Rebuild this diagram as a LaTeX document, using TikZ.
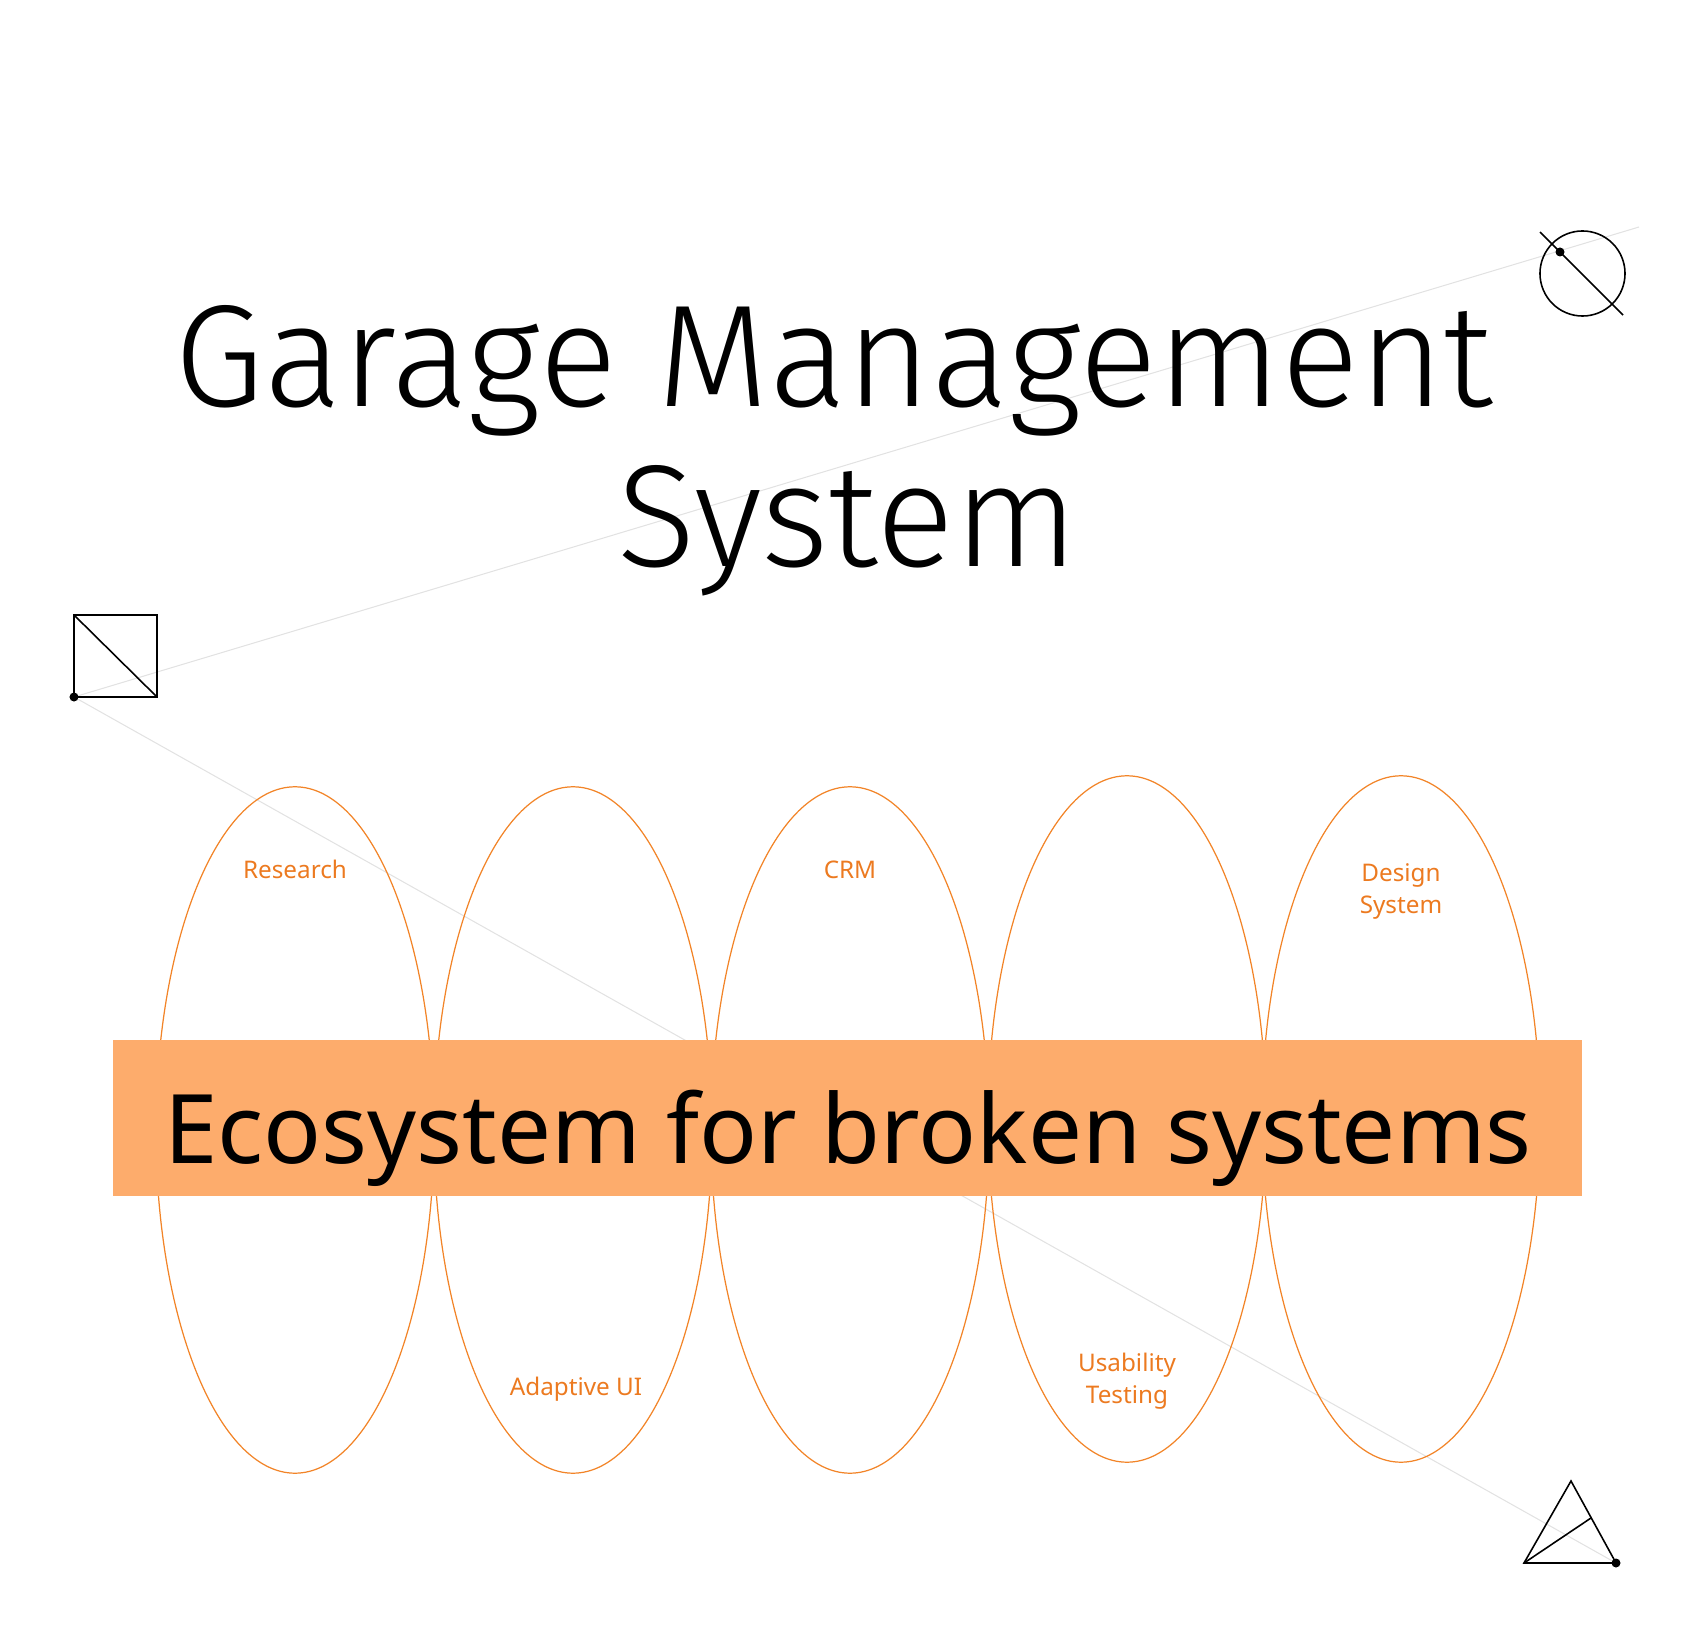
\documentclass[tikz,border=0pt]{standalone}
\usepackage{fontspec}
\setmainfont{Noto Sans}
\newfontfamily\titlefont{Fira Sans}[UprightFont=* Light]
\usetikzlibrary{shapes.geometric}

\begin{document}
\begin{tikzpicture}[x=0.01cm, y=-0.01cm]
% Styles
\tikzstyle{none} = []
\tikzstyle{blackdot}=[fill=black, shape=circle, minimum size=0.09cm, inner sep=0cm]
\tikzstyle{outline}=[draw=black, line width=0.45pt]
\tikzstyle{greyline}=[-, draw={rgb,255: red,226; green,226; blue,226}, line width=0.3pt]
\tikzstyle{petal}=[draw={rgb,255: red,242; green,132; blue,40}, shape=ellipse, line width=0.35pt, minimum width=2.78cm, minimum height=6.86cm, inner sep=0cm]
\tikzstyle{tag}=[text={rgb,255: red,236; green,122; blue,32}, font=\fontsize{6.9}{9.1}\selectfont, align=center, anchor=base, inner sep=0cm]
\tikzstyle{band}=[fill={rgb,255: red,253; green,172; blue,108}]

\useasboundingbox (0,0) rectangle (1696,1652);

% corner marks
\node [style=none] (1) at (74, 615) {};
\node [style=none] (2) at (157, 615) {};
\node [style=none] (3) at (157, 697) {};
\node [style=none] (4) at (74, 697) {};
\node [style=none] (5) at (1582.5, 273.5) {};
\node [style=none] (6) at (1540, 232) {};
\node [style=none] (7) at (1623, 315) {};
\node [style=none] (8) at (1571, 1481) {};
\node [style=none] (9) at (1524, 1563) {};
\node [style=none] (10) at (1616, 1563) {};
\node [style=none] (11) at (1591, 1518) {};
\node [style=none] (12) at (1639, 227) {};

% grey guide lines
\draw [style=greyline] (4.center) to (12.center);
\draw [style=greyline] (4.center) to (10.center);

% petals
\node [style=petal] (e1) at (295, 1130) {};
\node [style=petal] (e2) at (573, 1130) {};
\node [style=petal] (e3) at (850, 1130) {};
\node [style=petal] (e4) at (1127, 1119) {};
\node [style=petal] (e5) at (1401, 1119) {};

\node [style=tag] (t1) at (295, 879) {Research};
\node [style=tag] (t2) at (576, 1395) {Adaptive UI};
\node [style=tag] (t3) at (850, 879) {CRM};
\node [style=tag] (t4) at (1127, 1403) {Usability\\Testing};
\node [style=tag] (t5) at (1401, 913) {Design\\System};

% band
\fill [style=band] (113, 1040) rectangle (1582, 1196);
\node [anchor=base, inner sep=0cm, font=\fontsize{27.3}{30}\selectfont] (eco) at (848, 1163) {Ecosystem for broken systems};

% title
\node [anchor=base, inner sep=0cm, font=\titlefont\fontsize{41.3}{46}\selectfont] (title1) at (834, 407) {Garage Management};
\node [anchor=base, inner sep=0cm, font=\titlefont\fontsize{41.3}{46}\selectfont] (title2) at (848, 567) {System};

% marks
\draw [style=outline] (1.center) to (2.center) to (3.center) to (4.center) to cycle;
\draw [style=outline] (1.center) to (3.center);
\draw [style=outline] (5.center) circle (0.425cm);
\draw [style=outline] (6.center) to (7.center);
\draw [style=outline] (8.center) to (9.center) to (10.center) to cycle;
\draw [style=outline] (9.center) to (11.center);
\node [style=blackdot] (d1) at (4) {};
\node [style=blackdot] (d2) at (1560, 252) {};
\node [style=blackdot] (d3) at (10) {};
\end{tikzpicture}
\end{document}
